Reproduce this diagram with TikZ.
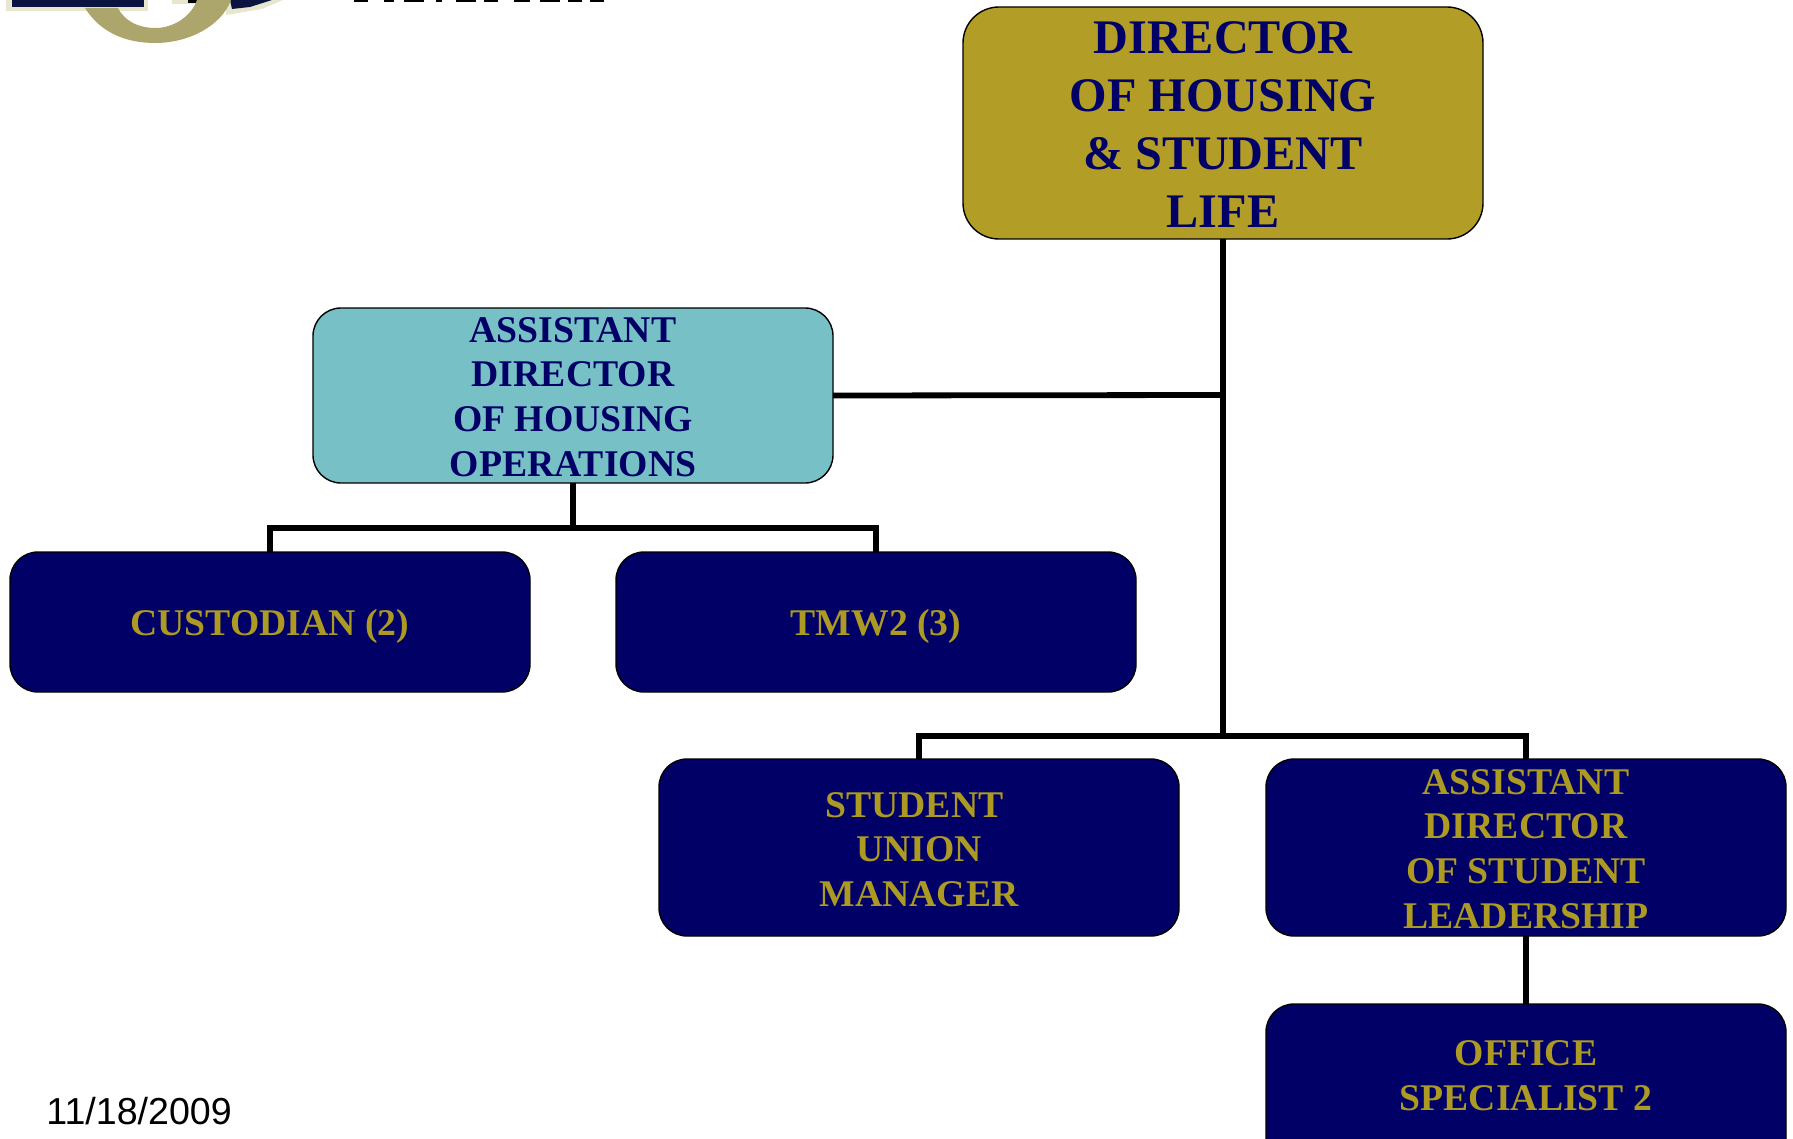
\documentclass[tikz,border=0pt]{standalone}
\usepackage{fontspec}
\setmainfont{Liberation Serif}
\newfontfamily\datefont{Liberation Sans}
\definecolor{navybox}{HTML}{000066}
\definecolor{goldbox}{HTML}{B29D26}
\definecolor{goldtxt}{HTML}{AD9A22}
\definecolor{tealbox}{HTML}{77C1C6}
\definecolor{logogold}{HTML}{ADA66C}
\definecolor{logonavy}{HTML}{0A1440}
\definecolor{logoedge}{HTML}{E8E6CC}
\newcommand\pushup[1]{\rule[-#1]{0pt}{#1}}
\newcommand\pushdown[1]{\rule{0pt}{#1}}
\tikzset{
  x=0.5pt,y=-0.5pt,
  orgbox/.style={draw=black,line width=0.7pt,rounded corners=14pt,inner sep=0pt,outer sep=0pt,align=center,font=\bfseries\fontsize{18.85}{22.3}\selectfont,anchor=north west},
  navyunit/.style={orgbox,fill=navybox,text=goldtxt},
  link/.style={draw=black,line width=2.9pt},
}
\begin{document}
\begin{tikzpicture}
\useasboundingbox (0,0) rectangle (1793,1139);
% logo fragment, clipped by the page top
\fill[logoedge] (6,0) rectangle (148,11);
\fill[logonavy] (12,0) rectangle (144,7);
\fill[logoedge] (226,0) -- (283,0) -- (262,9) -- (226,15) -- cycle;
\fill[logonavy] (230,0) -- (272,0) -- (250,7) -- (232,9) -- cycle;
\fill[logoedge] (172,0) rectangle (198,4);
\fill[black] (188,0) rectangle (197,3);
\fill[logogold] (85,8) .. controls (100,32) and (125,43) .. (155,43) .. controls (190,43) and (222,25) .. (231,0) -- (197,0) .. controls (192,15) and (175,28) .. (155,28) .. controls (140,28) and (125,22) .. (118,8) -- cycle;
% clipped letters
\foreach \a/\b in {354/368,384/394,404/424,436/442,456/476,484/498,514/530,540/560,568/582,590/604}
  \fill[black] (\a,0) rectangle (\b,2.5);
% connectors underneath the boxes
\coordinate (j1) at (1223,395);
\coordinate (j2) at (1223,736);
\coordinate (h1) at (573,528);
\node[orgbox,fill=goldbox,text=navybox,font=\bfseries\fontsize{24.1}{29}\selectfont,rounded corners=18pt,minimum width=260pt,minimum height=116pt] (dir) at (963,7) {\pushdown{17.5pt}DIRECTOR\\OF HOUSING\\\& STUDENT\\LIFE};
\node[orgbox,fill=tealbox,text=navybox,minimum width=260pt,minimum height=87.5pt] (adh) at (313,308) {\pushdown{13.8pt}ASSISTANT\\DIRECTOR\\OF HOUSING\\OPERATIONS};
\node[navyunit,minimum width=260pt,minimum height=70pt] (cust) at (10,552) {\pushdown{17.9pt}CUSTODIAN (2)};
\node[navyunit,minimum width=260pt,minimum height=70pt] (tmw) at (616,552) {\pushdown{17.9pt}TMW2 (3)};
\node[navyunit,minimum width=260pt,minimum height=88.5pt] (sum) at (659,759) {\pushdown{14.5pt}STUDENT\hspace*{4.6pt}\\UNION\\MANAGER};
\node[navyunit,minimum width=260pt,minimum height=88.5pt] (ads) at (1266,759) {\pushdown{13.8pt}ASSISTANT\\DIRECTOR\\OF STUDENT\\LEADERSHIP};
\node[navyunit,minimum width=260pt,minimum height=88.5pt] (off) at (1266,1004) {OFFICE\\SPECIALIST 2\pushup{17pt}};
\draw[link] (dir.south) -- (j1) -- (j2);
\draw[link] (adh.east) -- (j1);
\draw[link] (adh.south) -- (h1);
\draw[link] (cust.north) |- (h1) -| (tmw.north);
\draw[link] (sum.north) |- (j2) -| (ads.north);
\draw[link] (ads.south) -- (off.north);
\node[inner sep=0pt,anchor=west,font=\datefont\fontsize{18.8}{22}\selectfont] (date) at (46,1111) {11/18/2009};
\end{tikzpicture}
\end{document}
